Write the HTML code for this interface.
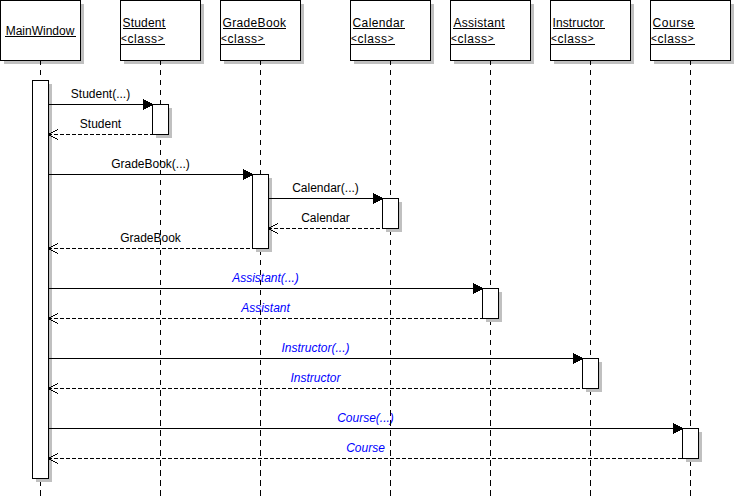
<!DOCTYPE html>
<html><head><meta charset="utf-8"><style>
html,body{margin:0;padding:0;background:#fff;}
body{width:735px;height:503px;overflow:hidden;}
svg{display:block;}
text{font-family:"Liberation Sans",sans-serif;font-size:12px;}
.it{font-style:italic;fill:#0000ff;}
</style></head><body>
<svg width="735" height="503" viewBox="0 0 735 503">
<rect x="0" y="0" width="735" height="503" fill="#fff"/>

<g shape-rendering="crispEdges">
<rect x="4" y="4" width="80" height="60" fill="#c0c0c0"/>
<rect x="124" y="4" width="80" height="60" fill="#c0c0c0"/>
<rect x="224" y="4" width="80" height="60" fill="#c0c0c0"/>
<rect x="354" y="4" width="80" height="60" fill="#c0c0c0"/>
<rect x="454" y="4" width="80" height="60" fill="#c0c0c0"/>
<rect x="554" y="4" width="80" height="60" fill="#c0c0c0"/>
<rect x="654" y="4" width="80" height="60" fill="#c0c0c0"/>
<rect x="0.5" y="0.5" width="80" height="60" fill="#fff" stroke="#000"/>
<rect x="120.5" y="0.5" width="80" height="60" fill="#fff" stroke="#000"/>
<rect x="220.5" y="0.5" width="80" height="60" fill="#fff" stroke="#000"/>
<rect x="350.5" y="0.5" width="80" height="60" fill="#fff" stroke="#000"/>
<rect x="450.5" y="0.5" width="80" height="60" fill="#fff" stroke="#000"/>
<rect x="550.5" y="0.5" width="80" height="60" fill="#fff" stroke="#000"/>
<rect x="650.5" y="0.5" width="80" height="60" fill="#fff" stroke="#000"/>
</g>
<text x="40" y="35" text-anchor="middle">MainWindow</text>
<line x1="5" y1="36.5" x2="76" y2="36.5" stroke="#000" shape-rendering="crispEdges"/>
<text x="122.5" y="27" textLength="42.5" lengthAdjust="spacing">Student</text>
<text x="121" y="43" textLength="42.5" lengthAdjust="spacing"><tspan font-size="10" dy="-1">&lt;</tspan><tspan dy="1">class</tspan><tspan font-size="10" dy="-1">&gt;</tspan></text>
<line x1="123" y1="28.5" x2="166" y2="28.5" stroke="#000" shape-rendering="crispEdges"/>
<line x1="121" y1="44.5" x2="165" y2="44.5" stroke="#000" shape-rendering="crispEdges"/>
<text x="222.5" y="27" textLength="63.5" lengthAdjust="spacing">GradeBook</text>
<text x="221" y="43" textLength="42.5" lengthAdjust="spacing"><tspan font-size="10" dy="-1">&lt;</tspan><tspan dy="1">class</tspan><tspan font-size="10" dy="-1">&gt;</tspan></text>
<line x1="223" y1="28.5" x2="286" y2="28.5" stroke="#000" shape-rendering="crispEdges"/>
<line x1="221" y1="44.5" x2="265" y2="44.5" stroke="#000" shape-rendering="crispEdges"/>
<text x="352.5" y="27" textLength="51.5" lengthAdjust="spacing">Calendar</text>
<text x="351" y="43" textLength="42.5" lengthAdjust="spacing"><tspan font-size="10" dy="-1">&lt;</tspan><tspan dy="1">class</tspan><tspan font-size="10" dy="-1">&gt;</tspan></text>
<line x1="353" y1="28.5" x2="405" y2="28.5" stroke="#000" shape-rendering="crispEdges"/>
<line x1="351" y1="44.5" x2="395" y2="44.5" stroke="#000" shape-rendering="crispEdges"/>
<text x="453.5" y="27" textLength="51" lengthAdjust="spacing">Assistant</text>
<text x="451" y="43" textLength="42.5" lengthAdjust="spacing"><tspan font-size="10" dy="-1">&lt;</tspan><tspan dy="1">class</tspan><tspan font-size="10" dy="-1">&gt;</tspan></text>
<line x1="453" y1="28.5" x2="505" y2="28.5" stroke="#000" shape-rendering="crispEdges"/>
<line x1="451" y1="44.5" x2="495" y2="44.5" stroke="#000" shape-rendering="crispEdges"/>
<text x="552.5" y="27" textLength="51" lengthAdjust="spacing">Instructor</text>
<text x="551" y="43" textLength="42.5" lengthAdjust="spacing"><tspan font-size="10" dy="-1">&lt;</tspan><tspan dy="1">class</tspan><tspan font-size="10" dy="-1">&gt;</tspan></text>
<line x1="553" y1="28.5" x2="605" y2="28.5" stroke="#000" shape-rendering="crispEdges"/>
<line x1="551" y1="44.5" x2="595" y2="44.5" stroke="#000" shape-rendering="crispEdges"/>
<text x="652.5" y="27" textLength="41.5" lengthAdjust="spacing">Course</text>
<text x="651" y="43" textLength="42.5" lengthAdjust="spacing"><tspan font-size="10" dy="-1">&lt;</tspan><tspan dy="1">class</tspan><tspan font-size="10" dy="-1">&gt;</tspan></text>
<line x1="653" y1="28.5" x2="695" y2="28.5" stroke="#000" shape-rendering="crispEdges"/>
<line x1="651" y1="44.5" x2="695" y2="44.5" stroke="#000" shape-rendering="crispEdges"/>
<text x="100.5" y="98" text-anchor="middle">Student(...)</text>
<text x="100.5" y="128" text-anchor="middle">Student</text>
<text x="150.5" y="168" text-anchor="middle">GradeBook(...)</text>
<text x="325.5" y="192" text-anchor="middle">Calendar(...)</text>
<text x="325.5" y="222" text-anchor="middle">Calendar</text>
<text x="150.5" y="242" text-anchor="middle">GradeBook</text>
<text x="265.5" y="282" text-anchor="middle" class="it">Assistant(...)</text>
<text x="265.5" y="312" text-anchor="middle" class="it">Assistant</text>
<text x="315.5" y="352" text-anchor="middle" class="it">Instructor(...)</text>
<text x="315.5" y="382" text-anchor="middle" class="it">Instructor</text>
<text x="365.5" y="422" text-anchor="middle" class="it">Course(...)</text>
<text x="365.5" y="452" text-anchor="middle" class="it">Course</text>
<g shape-rendering="crispEdges" stroke="#000" stroke-width="1">
<path d="M40 60h1v5h-1zM40 70h1v5h-1zM40 80h1v5h-1zM40 90h1v5h-1zM40 100h1v5h-1zM40 110h1v5h-1zM40 120h1v5h-1zM40 130h1v5h-1zM40 140h1v5h-1zM40 150h1v5h-1zM40 160h1v5h-1zM40 170h1v5h-1zM40 180h1v5h-1zM40 190h1v5h-1zM40 200h1v5h-1zM40 210h1v5h-1zM40 220h1v5h-1zM40 230h1v5h-1zM40 240h1v5h-1zM40 250h1v5h-1zM40 260h1v5h-1zM40 270h1v5h-1zM40 280h1v5h-1zM40 290h1v5h-1zM40 300h1v5h-1zM40 310h1v5h-1zM40 320h1v5h-1zM40 330h1v5h-1zM40 340h1v5h-1zM40 350h1v5h-1zM40 360h1v5h-1zM40 370h1v5h-1zM40 380h1v5h-1zM40 390h1v6h-1zM40 400h1v6h-1zM40 410h1v6h-1zM40 420h1v6h-1zM40 430h1v6h-1zM40 440h1v6h-1zM40 450h1v6h-1zM40 460h1v6h-1zM40 470h1v6h-1zM40 480h1v6h-1zM40 490h1v6h-1z" fill="#000" stroke="none"/>
<path d="M160 60h1v5h-1zM160 70h1v5h-1zM160 80h1v5h-1zM160 90h1v5h-1zM160 100h1v5h-1zM160 110h1v5h-1zM160 120h1v5h-1zM160 130h1v5h-1zM160 140h1v5h-1zM160 150h1v5h-1zM160 160h1v5h-1zM160 170h1v5h-1zM160 180h1v5h-1zM160 190h1v5h-1zM160 200h1v5h-1zM160 210h1v5h-1zM160 220h1v5h-1zM160 230h1v5h-1zM160 240h1v5h-1zM160 250h1v5h-1zM160 260h1v5h-1zM160 270h1v5h-1zM160 280h1v5h-1zM160 290h1v5h-1zM160 300h1v5h-1zM160 310h1v5h-1zM160 320h1v5h-1zM160 330h1v5h-1zM160 340h1v5h-1zM160 350h1v5h-1zM160 360h1v5h-1zM160 370h1v5h-1zM160 380h1v5h-1zM160 390h1v6h-1zM160 400h1v6h-1zM160 410h1v6h-1zM160 420h1v6h-1zM160 430h1v6h-1zM160 440h1v6h-1zM160 450h1v6h-1zM160 460h1v6h-1zM160 470h1v6h-1zM160 480h1v6h-1zM160 490h1v6h-1z" fill="#000" stroke="none"/>
<path d="M260 60h1v5h-1zM260 70h1v5h-1zM260 80h1v5h-1zM260 90h1v5h-1zM260 100h1v5h-1zM260 110h1v5h-1zM260 120h1v5h-1zM260 130h1v5h-1zM260 140h1v5h-1zM260 150h1v5h-1zM260 160h1v5h-1zM260 170h1v5h-1zM260 180h1v5h-1zM260 190h1v5h-1zM260 200h1v5h-1zM260 210h1v5h-1zM260 220h1v5h-1zM260 230h1v5h-1zM260 240h1v5h-1zM260 250h1v5h-1zM260 260h1v5h-1zM260 270h1v5h-1zM260 280h1v5h-1zM260 290h1v5h-1zM260 300h1v5h-1zM260 310h1v5h-1zM260 320h1v5h-1zM260 330h1v5h-1zM260 340h1v5h-1zM260 350h1v5h-1zM260 360h1v5h-1zM260 370h1v5h-1zM260 380h1v5h-1zM260 390h1v6h-1zM260 400h1v6h-1zM260 410h1v6h-1zM260 420h1v6h-1zM260 430h1v6h-1zM260 440h1v6h-1zM260 450h1v6h-1zM260 460h1v6h-1zM260 470h1v6h-1zM260 480h1v6h-1zM260 490h1v6h-1z" fill="#000" stroke="none"/>
<path d="M390 60h1v5h-1zM390 70h1v5h-1zM390 80h1v5h-1zM390 90h1v5h-1zM390 100h1v5h-1zM390 110h1v5h-1zM390 120h1v5h-1zM390 130h1v5h-1zM390 140h1v5h-1zM390 150h1v5h-1zM390 160h1v5h-1zM390 170h1v5h-1zM390 180h1v5h-1zM390 190h1v5h-1zM390 200h1v5h-1zM390 210h1v5h-1zM390 220h1v5h-1zM390 230h1v5h-1zM390 240h1v5h-1zM390 250h1v5h-1zM390 260h1v5h-1zM390 270h1v5h-1zM390 280h1v5h-1zM390 290h1v5h-1zM390 300h1v5h-1zM390 310h1v5h-1zM390 320h1v5h-1zM390 330h1v5h-1zM390 340h1v5h-1zM390 350h1v5h-1zM390 360h1v5h-1zM390 370h1v5h-1zM390 380h1v5h-1zM390 390h1v6h-1zM390 400h1v6h-1zM390 410h1v6h-1zM390 420h1v6h-1zM390 430h1v6h-1zM390 440h1v6h-1zM390 450h1v6h-1zM390 460h1v6h-1zM390 470h1v6h-1zM390 480h1v6h-1zM390 490h1v6h-1z" fill="#000" stroke="none"/>
<path d="M490 60h1v5h-1zM490 70h1v5h-1zM490 80h1v5h-1zM490 90h1v5h-1zM490 100h1v5h-1zM490 110h1v5h-1zM490 120h1v5h-1zM490 130h1v5h-1zM490 140h1v5h-1zM490 150h1v5h-1zM490 160h1v5h-1zM490 170h1v5h-1zM490 180h1v5h-1zM490 190h1v5h-1zM490 200h1v5h-1zM490 210h1v5h-1zM490 220h1v5h-1zM490 230h1v5h-1zM490 240h1v5h-1zM490 250h1v5h-1zM490 260h1v5h-1zM490 270h1v5h-1zM490 280h1v5h-1zM490 290h1v5h-1zM490 300h1v5h-1zM490 310h1v5h-1zM490 320h1v5h-1zM490 330h1v5h-1zM490 340h1v5h-1zM490 350h1v5h-1zM490 360h1v5h-1zM490 370h1v5h-1zM490 380h1v5h-1zM490 390h1v6h-1zM490 400h1v6h-1zM490 410h1v6h-1zM490 420h1v6h-1zM490 430h1v6h-1zM490 440h1v6h-1zM490 450h1v6h-1zM490 460h1v6h-1zM490 470h1v6h-1zM490 480h1v6h-1zM490 490h1v6h-1z" fill="#000" stroke="none"/>
<path d="M590 60h1v5h-1zM590 70h1v5h-1zM590 80h1v5h-1zM590 90h1v5h-1zM590 100h1v5h-1zM590 110h1v5h-1zM590 120h1v5h-1zM590 130h1v5h-1zM590 140h1v5h-1zM590 150h1v5h-1zM590 160h1v5h-1zM590 170h1v5h-1zM590 180h1v5h-1zM590 190h1v5h-1zM590 200h1v5h-1zM590 210h1v5h-1zM590 220h1v5h-1zM590 230h1v5h-1zM590 240h1v5h-1zM590 250h1v5h-1zM590 260h1v5h-1zM590 270h1v5h-1zM590 280h1v5h-1zM590 290h1v5h-1zM590 300h1v5h-1zM590 310h1v5h-1zM590 320h1v5h-1zM590 330h1v5h-1zM590 340h1v5h-1zM590 350h1v5h-1zM590 360h1v5h-1zM590 370h1v5h-1zM590 380h1v5h-1zM590 390h1v5h-1zM590 400h1v5h-1zM590 410h1v6h-1zM590 420h1v6h-1zM590 430h1v6h-1zM590 440h1v6h-1zM590 450h1v6h-1zM590 460h1v6h-1zM590 470h1v6h-1zM590 480h1v6h-1zM590 490h1v6h-1z" fill="#000" stroke="none"/>
<path d="M690 60h1v5h-1zM690 70h1v5h-1zM690 80h1v5h-1zM690 90h1v5h-1zM690 100h1v5h-1zM690 110h1v5h-1zM690 120h1v5h-1zM690 130h1v5h-1zM690 140h1v5h-1zM690 150h1v5h-1zM690 160h1v5h-1zM690 170h1v5h-1zM690 180h1v5h-1zM690 190h1v5h-1zM690 200h1v5h-1zM690 210h1v5h-1zM690 220h1v5h-1zM690 230h1v5h-1zM690 240h1v5h-1zM690 250h1v5h-1zM690 260h1v5h-1zM690 270h1v5h-1zM690 280h1v5h-1zM690 290h1v5h-1zM690 300h1v5h-1zM690 310h1v5h-1zM690 320h1v5h-1zM690 330h1v5h-1zM690 340h1v5h-1zM690 350h1v5h-1zM690 360h1v5h-1zM690 370h1v5h-1zM690 380h1v5h-1zM690 390h1v5h-1zM690 400h1v5h-1zM690 410h1v6h-1zM690 420h1v6h-1zM690 430h1v6h-1zM690 440h1v6h-1zM690 450h1v6h-1zM690 460h1v6h-1zM690 470h1v6h-1zM690 480h1v6h-1zM690 490h1v6h-1z" fill="#000" stroke="none"/>
</g>
<g shape-rendering="crispEdges">
<rect x="36" y="84" width="16" height="398" fill="#c0c0c0"/>
<rect x="32.5" y="80.5" width="16" height="398" fill="#fff" stroke="#000"/>
<rect x="156" y="108" width="16" height="30" fill="#c0c0c0"/>
<rect x="152.5" y="104.5" width="16" height="30" fill="#fff" stroke="#000"/>
<rect x="256" y="178" width="16" height="74" fill="#c0c0c0"/>
<rect x="252.5" y="174.5" width="16" height="74" fill="#fff" stroke="#000"/>
<rect x="386" y="202" width="16" height="30" fill="#c0c0c0"/>
<rect x="382.5" y="198.5" width="16" height="30" fill="#fff" stroke="#000"/>
<rect x="486" y="292" width="16" height="30" fill="#c0c0c0"/>
<rect x="482.5" y="288.5" width="16" height="30" fill="#fff" stroke="#000"/>
<rect x="586" y="362" width="16" height="30" fill="#c0c0c0"/>
<rect x="582.5" y="358.5" width="16" height="30" fill="#fff" stroke="#000"/>
<rect x="686" y="432" width="16" height="30" fill="#c0c0c0"/>
<rect x="682.5" y="428.5" width="16" height="30" fill="#fff" stroke="#000"/>
</g>
<g shape-rendering="crispEdges" stroke="#000" stroke-width="1">
<line x1="48" y1="104.5" x2="152" y2="104.5"/>
<path d="M143 99h1v11h-1zM144 100h1v9h-1zM145 100h1v9h-1zM146 101h1v7h-1zM147 101h1v7h-1zM148 102h1v5h-1zM149 102h1v5h-1zM150 103h1v3h-1zM151 103h1v3h-1zM152 104h1v1h-1z" fill="#000" stroke="none"/>
<line x1="48" y1="134.5" x2="152" y2="134.5" stroke-dasharray="4,2"/>
<path d="M49 133h2v1h-2zM49 135h2v1h-2zM51 132h2v1h-2zM51 136h2v1h-2zM53 131h2v1h-2zM53 137h2v1h-2zM55 130h2v1h-2zM55 138h2v1h-2zM57 129h1v1h-1zM57 139h1v1h-1zM49 134h3v1h-3z" fill="#000" stroke="none"/>
<line x1="48" y1="174.5" x2="252" y2="174.5"/>
<path d="M243 169h1v11h-1zM244 170h1v9h-1zM245 170h1v9h-1zM246 171h1v7h-1zM247 171h1v7h-1zM248 172h1v5h-1zM249 172h1v5h-1zM250 173h1v3h-1zM251 173h1v3h-1zM252 174h1v1h-1z" fill="#000" stroke="none"/>
<line x1="268" y1="198.5" x2="382" y2="198.5"/>
<path d="M373 193h1v11h-1zM374 194h1v9h-1zM375 194h1v9h-1zM376 195h1v7h-1zM377 195h1v7h-1zM378 196h1v5h-1zM379 196h1v5h-1zM380 197h1v3h-1zM381 197h1v3h-1zM382 198h1v1h-1z" fill="#000" stroke="none"/>
<line x1="268" y1="228.5" x2="382" y2="228.5" stroke-dasharray="4,2"/>
<path d="M269 227h2v1h-2zM269 229h2v1h-2zM271 226h2v1h-2zM271 230h2v1h-2zM273 225h2v1h-2zM273 231h2v1h-2zM275 224h2v1h-2zM275 232h2v1h-2zM277 223h1v1h-1zM277 233h1v1h-1zM269 228h3v1h-3z" fill="#000" stroke="none"/>
<line x1="48" y1="248.5" x2="252" y2="248.5" stroke-dasharray="4,2"/>
<path d="M49 247h2v1h-2zM49 249h2v1h-2zM51 246h2v1h-2zM51 250h2v1h-2zM53 245h2v1h-2zM53 251h2v1h-2zM55 244h2v1h-2zM55 252h2v1h-2zM57 243h1v1h-1zM57 253h1v1h-1zM49 248h3v1h-3z" fill="#000" stroke="none"/>
<line x1="48" y1="288.5" x2="482" y2="288.5"/>
<path d="M473 283h1v11h-1zM474 284h1v9h-1zM475 284h1v9h-1zM476 285h1v7h-1zM477 285h1v7h-1zM478 286h1v5h-1zM479 286h1v5h-1zM480 287h1v3h-1zM481 287h1v3h-1zM482 288h1v1h-1z" fill="#000" stroke="none"/>
<line x1="48" y1="318.5" x2="482" y2="318.5" stroke-dasharray="4,2"/>
<path d="M49 317h2v1h-2zM49 319h2v1h-2zM51 316h2v1h-2zM51 320h2v1h-2zM53 315h2v1h-2zM53 321h2v1h-2zM55 314h2v1h-2zM55 322h2v1h-2zM57 313h1v1h-1zM57 323h1v1h-1zM49 318h3v1h-3z" fill="#000" stroke="none"/>
<line x1="48" y1="358.5" x2="582" y2="358.5"/>
<path d="M573 353h1v11h-1zM574 354h1v9h-1zM575 354h1v9h-1zM576 355h1v7h-1zM577 355h1v7h-1zM578 356h1v5h-1zM579 356h1v5h-1zM580 357h1v3h-1zM581 357h1v3h-1zM582 358h1v1h-1z" fill="#000" stroke="none"/>
<line x1="48" y1="388.5" x2="582" y2="388.5" stroke-dasharray="4,2"/>
<path d="M49 387h2v1h-2zM49 389h2v1h-2zM51 386h2v1h-2zM51 390h2v1h-2zM53 385h2v1h-2zM53 391h2v1h-2zM55 384h2v1h-2zM55 392h2v1h-2zM57 383h1v1h-1zM57 393h1v1h-1zM49 388h3v1h-3z" fill="#000" stroke="none"/>
<line x1="48" y1="428.5" x2="682" y2="428.5"/>
<path d="M673 423h1v11h-1zM674 424h1v9h-1zM675 424h1v9h-1zM676 425h1v7h-1zM677 425h1v7h-1zM678 426h1v5h-1zM679 426h1v5h-1zM680 427h1v3h-1zM681 427h1v3h-1zM682 428h1v1h-1z" fill="#000" stroke="none"/>
<line x1="48" y1="458.5" x2="682" y2="458.5" stroke-dasharray="4,2"/>
<path d="M49 457h2v1h-2zM49 459h2v1h-2zM51 456h2v1h-2zM51 460h2v1h-2zM53 455h2v1h-2zM53 461h2v1h-2zM55 454h2v1h-2zM55 462h2v1h-2zM57 453h1v1h-1zM57 463h1v1h-1zM49 458h3v1h-3z" fill="#000" stroke="none"/>
</g>
</svg>
</body></html>
